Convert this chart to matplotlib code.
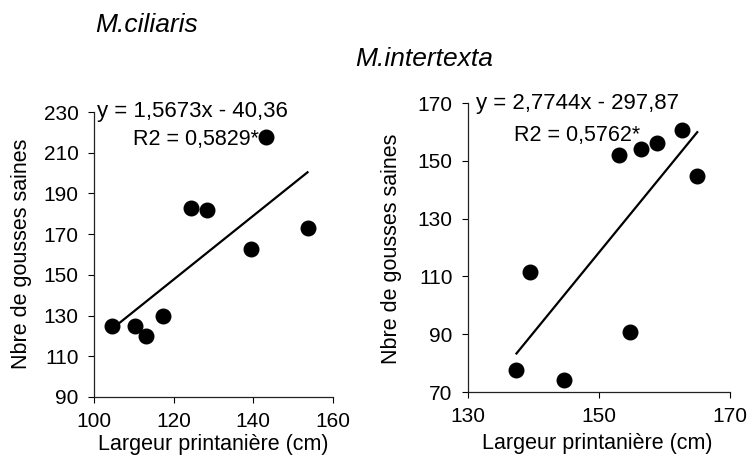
import matplotlib
matplotlib.use("Agg")
import matplotlib.pyplot as plt
import numpy as np

plt.rcParams['font.family'] = ['Liberation Sans', 'DejaVu Sans']

# M.ciliaris data
cil_x = [104.4, 110.3, 113.0, 117.4, 124.4, 128.3, 139.4, 143.1, 153.6]
cil_y = [125, 125, 120, 130, 182.7, 181.8, 162.5, 217.5, 173.2]
cil_slope, cil_icpt = 1.5673, -40.36

# M.intertexta data
int_x = [137.4, 139.5, 144.7, 153.1, 154.8, 156.4, 158.9, 162.7, 165.0]
int_y = [77.5, 111.5, 74, 151.9, 90.8, 154, 156.2, 160.8, 144.8]
int_slope, int_icpt = 2.7744, -297.87

titles = ["M.ciliaris", "M.intertexta"]
eqs = ["y = 1,5673x - 40,36", "y = 2,7744x - 297,87"]
r2s = ["R2 = 0,5829*", "R2 = 0,5762*"]
xlabel = "Largeur printanière (cm)"
ylabel = "Nbre de gousses saines"

W, H = 752, 465
fig = plt.figure(figsize=(W/100, H/100), dpi=100)

def px(x, y):
    return x / W, 1 - y / H

def make_ax(l, t, r, b):
    x0, y1 = px(l, t)
    x1, y0 = px(r, b)
    return fig.add_axes([x0, y0, x1 - x0, y1 - y0])

axL = make_ax(94, 112, 333, 397)
axR = make_ax(468, 103, 730, 392)

configs = [
    (axL, cil_x, cil_y, cil_slope, cil_icpt, (100, 160), [100, 120, 140, 160], (90, 230), list(range(90, 231, 20))),
    (axR, int_x, int_y, int_slope, int_icpt, (130, 170), [130, 150, 170], (70, 170), list(range(70, 171, 20))),
]

for ax, xs, ys, m, c, xl, xt, yl, yt in configs:
    ax.scatter(xs, ys, s=110, color='black', zorder=3, clip_on=False)
    xx = np.array([min(xs), max(xs)])
    ax.plot(xx, m * xx + c, color='black', lw=1.6)
    ax.set_xlim(*xl)
    ax.set_ylim(*yl)
    ax.set_xticks(xt)
    ax.set_yticks(yt)
    for s in ['top', 'right']:
        ax.spines[s].set_visible(False)
    for s in ['left', 'bottom']:
        ax.spines[s].set_linewidth(0.9)
        ax.spines[s].set_color('#222222')
    ax.tick_params(direction='out', length=4, width=0.8, labelsize=15)
    ax.tick_params(axis='x', pad=7)
    ax.tick_params(axis='y', pad=7)
    ax.patch.set_alpha(0)

# titles
fig.text(*px(95, 25), titles[0], fontsize=19, style='italic', ha='left', va='center')
fig.text(*px(355, 59), titles[1], fontsize=19, style='italic', ha='left', va='center')

# equations
fig.text(*px(97, 112), eqs[0], fontsize=16, ha='left', va='center')
fig.text(*px(133, 140), r2s[0], fontsize=15.5, ha='left', va='center')
fig.text(*px(476, 103), eqs[1], fontsize=16, ha='left', va='center')
fig.text(*px(514, 135), r2s[1], fontsize=15.5, ha='left', va='center')

# axis labels
fig.text(*px(213, 444), xlabel, fontsize=15.5, ha='center', va='center')
fig.text(*px(597, 443), xlabel, fontsize=15.5, ha='center', va='center')
fig.text(*px(22, 254), ylabel, fontsize=15.5, ha='center', va='center', rotation=90)
fig.text(*px(391, 249), ylabel, fontsize=15.5, ha='center', va='center', rotation=90)

fig.savefig("out.png", dpi=100)
